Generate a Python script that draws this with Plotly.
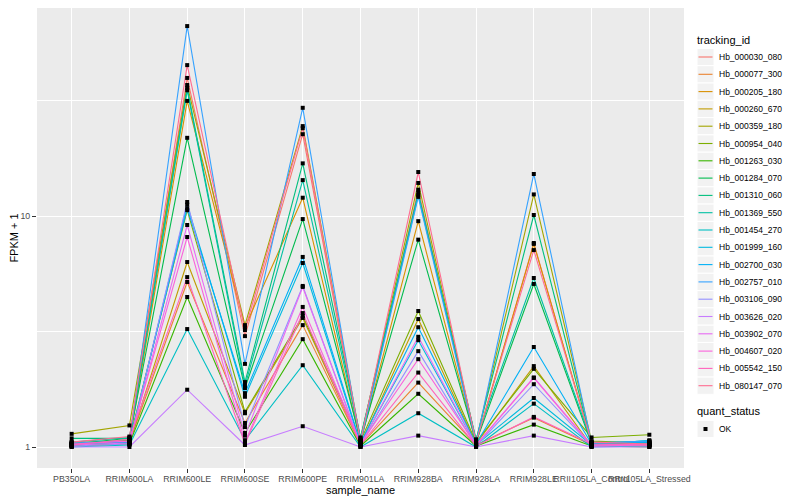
import plotly.graph_objects as go

samples = ["PB350LA", "RRIM600LA", "RRIM600LE", "RRIM600SE", "RRIM600PE", "RRIM901LA",
           "RRIM928BA", "RRIM928LA", "RRIM928LE", "RRII105LA_Control", "RRII105LA_Stressed"]

tracking_ids = ["Hb_000030_080", "Hb_000077_300", "Hb_000205_180", "Hb_000260_670",
                "Hb_000359_180", "Hb_000954_040", "Hb_001263_030", "Hb_001284_070",
                "Hb_001310_060", "Hb_001369_550", "Hb_001454_270", "Hb_001999_160",
                "Hb_002700_030", "Hb_002757_010", "Hb_003106_090", "Hb_003626_020",
                "Hb_003902_070", "Hb_004607_020", "Hb_005542_150", "Hb_080147_070"]

colors = ["#F8766D", "#EA8331", "#D89000", "#C09B00", "#A3A500", "#7CAE00", "#39B600",
          "#00BB4E", "#00BF7D", "#00C1A3", "#00BFC4", "#00BAE0", "#00B0F6", "#35A2FF",
          "#9590FF", "#C77CFF", "#E76BF3", "#FA62DB", "#FF62BC", "#FF6C91"]

fpkm_hb_000030_080 = [1.02, 1.08, 39.6, 3.02, 22.6, 1.04, 13.0, 1.03, 7.64, 1.03, 1.02]
fpkm_hb_000077_300 = [1.01, 1.05, 5.18, 1.27, 3.37, 1.02, 1.90, 1.02, 1.34, 1.02, 1.01]
fpkm_hb_000205_180 = [1.03, 1.06, 31.5, 3.30, 12.0, 1.05, 9.50, 1.04, 7.57, 1.04, 1.03]
fpkm_hb_000260_670 = [1.02, 1.04, 6.32, 1.40, 3.62, 1.03, 3.58, 1.03, 2.24, 1.01, 1.02]
fpkm_hb_000359_180 = [1.14, 1.24, 36.9, 3.37, 24.5, 1.08, 13.9, 1.06, 12.4, 1.06, 1.04]
fpkm_hb_000954_040 = [1.04, 1.07, 10.6, 1.42, 3.69, 1.06, 3.88, 1.05, 2.18, 1.10, 1.13]
fpkm_hb_001263_030 = [1.01, 1.03, 4.46, 1.15, 2.93, 1.01, 1.70, 1.01, 1.25, 1.01, 1.00]
fpkm_hb_001284_070 = [1.03, 1.09, 21.8, 1.80, 9.70, 1.07, 7.90, 1.05, 5.08, 1.03, 1.05]
fpkm_hb_001310_060 = [1.09, 1.09, 35.8, 1.91, 16.9, 1.10, 12.6, 1.07, 10.1, 1.04, 1.06]
fpkm_hb_001369_550 = [1.05, 1.10, 35.0, 1.84, 14.3, 1.09, 12.3, 1.08, 5.39, 1.05, 1.04]
fpkm_hb_001454_270 = [1.00, 1.02, 3.24, 1.07, 2.26, 1.00, 1.40, 1.00, 1.54, 1.00, 1.01]
fpkm_hb_001999_160 = [1.02, 1.04, 11.2, 1.65, 6.26, 1.03, 2.90, 1.02, 1.63, 1.02, 1.07]
fpkm_hb_002700_030 = [1.03, 1.05, 10.8, 1.71, 6.65, 1.04, 3.30, 1.03, 2.71, 1.03, 1.05]
fpkm_hb_002757_010 = [1.04, 1.06, 66.4, 2.29, 29.4, 1.05, 12.1, 1.04, 15.2, 1.04, 1.06]
fpkm_hb_003106_090 = [1.01, 1.03, 11.5, 1.22, 4.98, 1.02, 2.60, 1.01, 1.87, 1.01, 1.02]
fpkm_hb_003626_020 = [1.00, 1.00, 1.77, 1.02, 1.23, 1.00, 1.12, 1.00, 1.12, 1.00, 1.00]
fpkm_hb_003902_070 = [1.02, 1.04, 9.14, 1.12, 4.93, 1.02, 3.00, 1.02, 2.00, 1.02, 1.03]
fpkm_hb_004607_020 = [1.03, 1.06, 8.11, 1.05, 4.04, 1.03, 2.40, 1.02, 1.99, 1.01, 1.02]
fpkm_hb_005542_150 = [1.02, 1.08, 5.44, 1.03, 3.80, 1.02, 2.10, 1.01, 1.35, 1.03, 1.02]
fpkm_hb_080147_070 = [1.05, 1.11, 45.0, 3.21, 24.0, 1.06, 15.5, 1.05, 7.12, 1.05, 1.03]

series = [fpkm_hb_000030_080, fpkm_hb_000077_300, fpkm_hb_000205_180, fpkm_hb_000260_670,
          fpkm_hb_000359_180, fpkm_hb_000954_040, fpkm_hb_001263_030, fpkm_hb_001284_070,
          fpkm_hb_001310_060, fpkm_hb_001369_550, fpkm_hb_001454_270, fpkm_hb_001999_160,
          fpkm_hb_002700_030, fpkm_hb_002757_010, fpkm_hb_003106_090, fpkm_hb_003626_020,
          fpkm_hb_003902_070, fpkm_hb_004607_020, fpkm_hb_005542_150, fpkm_hb_080147_070]

quant_status = ["OK"]

FONT = "Liberation Sans"
OFF = 8                      # page body margin of the html page
W, H = 800 - OFF, 500 - OFF  # figure size so the page does not overflow
# panel edges in figure px (page px minus OFF)
L, R, T, B = 37 - OFF, 684 - OFF, 0, 468 - OFF

fig = go.Figure()
for tid, col, vals in zip(tracking_ids, colors, series):
    fig.add_trace(go.Scatter(x=samples, y=vals, mode="lines", name=tid,
                             line=dict(color=col, width=1.1), showlegend=False))

all_x, all_y = [], []
for vals in series:
    all_x += samples
    all_y += vals
fig.add_trace(go.Scatter(x=all_x, y=all_y, mode="markers", name=quant_status[0],
                         marker=dict(color="black", size=4, symbol="square"),
                         showlegend=False))

def px_x(p):  # page px -> paper
    return (p - OFF - L) / (R - L)

def px_y(p):
    return (B - (p - OFF)) / (B - T)

shapes = []
annotations = []
annotations.append(dict(x=px_x(695), y=px_y(40), xref="paper", yref="paper",
                        text="tracking_id", showarrow=False, xanchor="left", yanchor="middle",
                        font=dict(family=FONT, size=11, color="black")))
step = 17.3
for i, (tid, col) in enumerate(zip(tracking_ids, colors)):
    cy = 57 + i * step
    shapes.append(dict(type="rect", xref="paper", yref="paper",
                       x0=px_x(697), x1=px_x(714), y0=px_y(cy - 8.6), y1=px_y(cy + 8.6),
                       fillcolor="#F2F2F2", line=dict(color="white", width=1), layer="above"))
    shapes.append(dict(type="line", xref="paper", yref="paper",
                       x0=px_x(698.5), x1=px_x(712.5), y0=px_y(cy), y1=px_y(cy),
                       line=dict(color=col, width=1.1), layer="above"))
    annotations.append(dict(x=px_x(717), y=px_y(cy), xref="paper", yref="paper",
                            text=tid, showarrow=False, xanchor="left", yanchor="middle",
                            font=dict(family=FONT, size=8.5, color="black")))
annotations.append(dict(x=px_x(695), y=px_y(411), xref="paper", yref="paper",
                        text="quant_status", showarrow=False, xanchor="left", yanchor="middle",
                        font=dict(family=FONT, size=11, color="black")))
qy = 429
shapes.append(dict(type="rect", xref="paper", yref="paper",
                   x0=px_x(697), x1=px_x(714), y0=px_y(qy - 8.6), y1=px_y(qy + 8.6),
                   fillcolor="#F2F2F2", line=dict(color="white", width=1), layer="above"))
shapes.append(dict(type="rect", xref="paper", yref="paper",
                   x0=px_x(703.5), x1=px_x(707.5), y0=px_y(qy - 2), y1=px_y(qy + 2),
                   fillcolor="black", line=dict(color="black", width=0), layer="above"))
annotations.append(dict(x=px_x(717), y=px_y(qy), xref="paper", yref="paper",
                        text=quant_status[0], showarrow=False, xanchor="left", yanchor="middle",
                        font=dict(family=FONT, size=8.5, color="black")))

# y mapping: page y = 447 - 231*log10(v)  -> figure y = 439 - 231*log10(v)
y_top = (447 - OFF - T) / 231.0
y_bot = (447 - OFF - B) / 231.0

fig.update_layout(
    width=W, height=H,
    margin=dict(l=L, r=W - R, t=T, b=H - B, pad=0),
    paper_bgcolor="white", plot_bgcolor="#EBEBEB",
    font=dict(family=FONT, size=9, color="#4D4D4D"),
    showlegend=False,
    shapes=shapes, annotations=annotations,
    xaxis=dict(type="category", categoryorder="array", categoryarray=samples,
               range=[-0.6, len(samples) - 0.4], automargin=False, tickangle=0,
               showgrid=True, gridcolor="white", gridwidth=1.4,
               ticks="outside", ticklen=4, tickcolor="#333333", tickwidth=1,
               ticklabelstandoff=-2,
               tickfont=dict(family=FONT, size=8.8, color="#4D4D4D"),
               showline=False, zeroline=False,
               title=dict(text="sample_name", font=dict(family=FONT, size=11, color="black"),
                          standoff=2)),
    yaxis=dict(type="log", range=[y_bot, y_top], automargin=False,
               tickvals=[1, 10], ticktext=["1", "10"],
               showgrid=True, gridcolor="white", gridwidth=1.4,
               minor=dict(tickvals=[3.1623, 31.623], showgrid=True, gridcolor="white",
                          gridwidth=0.6, ticks=""),
               ticks="outside", ticklen=4, tickcolor="#333333", tickwidth=1,
               tickfont=dict(family=FONT, size=8.8, color="#4D4D4D"),
               showline=False, zeroline=False,
               title=dict(text="FPKM + 1", font=dict(family=FONT, size=11, color="black"),
                          standoff=1)),
)

fig.write_html("out.html")
